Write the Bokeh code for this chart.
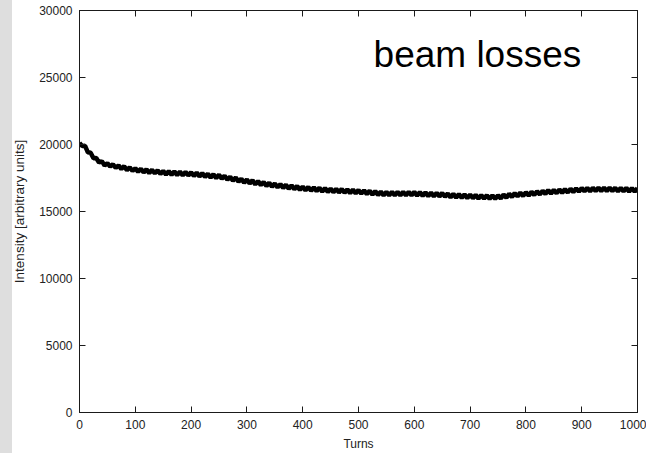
from bokeh.plotting import figure
from bokeh.models import LinearAxis, Label, Range1d, FixedTicker, GlobalInlineStyleSheet
from bokeh.embed import file_html
from bokeh.resources import INLINE

turns = list(range(0, 1001, 5))
intensity = [
    20120, 19880, 19900, 19420, 19380, 18980, 18990, 18650, 18760, 18440,
    18610, 18350, 18520, 18250, 18440, 18170, 18380, 18090, 18300, 18020,
    18230, 17960, 18190, 17920, 18150, 17870, 18110, 17850, 18070, 17800,
    18030, 17760, 18010, 17740, 17990, 17720, 17980, 17700, 17950, 17690,
    17930, 17650, 17900, 17610, 17860, 17570, 17820, 17530, 17780, 17490,
    17740, 17440, 17670, 17370, 17600, 17300, 17530, 17220, 17450, 17150,
    17390, 17090, 17330, 17020, 17270, 16970, 17200, 16900, 17150, 16850,
    17090, 16800, 17040, 16750, 17000, 16700, 16950, 16660, 16900, 16610,
    16860, 16580, 16830, 16550, 16800, 16520, 16770, 16490, 16750, 16460,
    16710, 16440, 16690, 16420, 16680, 16400, 16650, 16370, 16630, 16350,
    16600, 16330, 16580, 16300, 16550, 16260, 16520, 16230, 16480, 16210,
    16470, 16200, 16460, 16210, 16470, 16200, 16460, 16200, 16470, 16210,
    16460, 16190, 16450, 16170, 16430, 16150, 16400, 16130, 16390, 16120,
    16380, 16100, 16340, 16060, 16310, 16040, 16290, 16020, 16270, 16000,
    16260, 15990, 16240, 15970, 16220, 15960, 16210, 15950, 16210, 15950,
    16210, 15970, 16260, 16030, 16320, 16080, 16370, 16130, 16410, 16160,
    16430, 16190, 16470, 16230, 16510, 16270, 16550, 16310, 16590, 16340,
    16610, 16360, 16640, 16390, 16670, 16420, 16700, 16450, 16730, 16480,
    16750, 16500, 16760, 16510, 16770, 16520, 16780, 16520, 16780, 16520,
    16780, 16520, 16770, 16510, 16760, 16500, 16760, 16490, 16750, 16490,
    16750,
]
x_ticks = [0, 100, 200, 300, 400, 500, 600, 700, 800, 900, 1000]
y_ticks = [0, 5000, 10000, 15000, 20000, 25000, 30000]

FONT = "Liberation Sans"
AXC = "#1a1a1a"

p = figure(width=646, height=453, output_backend="svg", toolbar_location=None,
           x_range=Range1d(0, 1000), y_range=Range1d(0, 30000),
           min_border_left=79, min_border_right=9, min_border_top=10, min_border_bottom=41,
           x_axis_label="Turns", y_axis_label="Intensity [arbitrary units]")
p.border_fill_alpha = 0
p.background_fill_color = "white"
p.outline_line_color = AXC
p.grid.visible = False
p.stylesheets = [GlobalInlineStyleSheet(
    css="body{background:linear-gradient(to right,#dedede 0px,#dedede 12px,#ffffff 12px,#ffffff 100%);}")]

p.line(turns, intensity, line_color="black", line_width=4.5)

for ax in (p.xaxis[0], p.yaxis[0]):
    ax.major_tick_in = 6
    ax.major_tick_out = 0
    ax.minor_tick_in = 0
    ax.minor_tick_out = 0
    ax.axis_line_color = AXC
    ax.major_tick_line_color = AXC
    ax.major_label_text_font = FONT
    ax.major_label_text_font_size = "12px"
    ax.major_label_text_color = "#222222"
    ax.axis_label_text_font = FONT
    ax.axis_label_text_font_style = "normal"
    ax.axis_label_text_color = "#222222"
    ax.major_label_standoff = 7

p.xaxis[0].axis_label_text_font_size = "12px"
p.yaxis[0].axis_label_text_font_size = "13.5px"
p.xaxis[0].ticker = FixedTicker(ticks=x_ticks)
p.yaxis[0].ticker = FixedTicker(ticks=y_ticks)
p.xaxis[0].axis_label_standoff = 5
p.yaxis[0].axis_label_standoff = 9
p.yaxis[0].major_label_orientation = "horizontal"

for loc, ticks in (("above", x_ticks), ("right", y_ticks)):
    ax = LinearAxis(ticker=FixedTicker(ticks=ticks))
    ax.major_tick_in = 6
    ax.major_tick_out = 0
    ax.minor_tick_in = 0
    ax.minor_tick_out = 0
    ax.axis_line_color = AXC
    ax.major_tick_line_color = AXC
    ax.major_label_text_font_size = "1px"
    ax.major_label_text_alpha = 0
    ax.major_label_standoff = 0
    p.add_layout(ax, loc)

p.add_layout(Label(x=527, y=26750, text="beam losses", text_font=FONT,
                   text_font_size="37px", text_color="black",
                   text_baseline="alphabetic", text_align="left"))

open("out.html", "w").write(file_html(p, INLINE))
